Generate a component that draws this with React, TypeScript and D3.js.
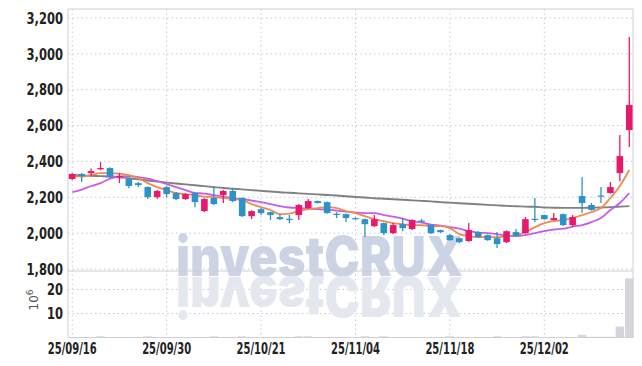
import React from 'react'
import * as d3 from 'd3'

// trading days shown on the chart
const dates = [
  '25/09/16','25/09/17','25/09/18','25/09/19','25/09/22','25/09/23','25/09/24','25/09/25','25/09/26','25/09/29',
  '25/09/30','25/10/01','25/10/02','25/10/10','25/10/13','25/10/14','25/10/15','25/10/16','25/10/17','25/10/20',
  '25/10/21','25/10/22','25/10/23','25/10/24','25/10/27','25/10/28','25/10/29','25/10/30','25/10/31','25/11/03',
  '25/11/04','25/11/05','25/11/06','25/11/07','25/11/10','25/11/11','25/11/12','25/11/13','25/11/14','25/11/17',
  '25/11/18','25/11/19','25/11/20','25/11/21','25/11/24','25/11/25','25/11/26','25/11/27','25/11/28','25/12/01',
  '25/12/02','25/12/03','25/12/04','25/12/05','25/12/08','25/12/09','25/12/10','25/12/11','25/12/12','25/12/15'
]

const open = [2302,2330,2335,2357,2363,2313,2302,2279,2257,2201, 2257,2224,2190,2224,2123,2196,2212,2235,2196,2095,
  2134,2117,2090,2080,2101,2140,2179,2173,2108,2106, 2084,2078,2039,2056,2000,2050,2023,2070,2045,2017,
  1989,1972,1956,2006,1989,1972,1950,2006,2000,2080, 2101,2073,2106,2045,2207,2157,2210,2224,2335,2575]
const close = [2330,2318,2346,2363,2313,2318,2263,2268,2201,2235, 2218,2190,2218,2173,2190,2162,2235,2179,2095,2123,
  2112,2101,2078,2078,2157,2179,2168,2112,2106,2084, 2078,2050,2078,2000,2045,2028,2073,2066,2000,2006,
  1961,1950,2017,1978,1961,1939,2011,1985,2078,2077, 2078,2084,2045,2090,2168,2129,2207,2257,2430,2715]
const high = [2335,2335,2360,2396,2368,2335,2305,2285,2262,2240, 2262,2228,2222,2228,2195,2263,2240,2251,2200,2128,
  2140,2120,2106,2101,2162,2190,2182,2176,2117,2110, 2088,2082,2101,2060,2056,2084,2078,2080,2048,2020,
  1995,1975,2056,2010,1993,2006,2015,2023,2090,2196, 2104,2112,2110,2101,2313,2168,2257,2285,2547,3094]
const low = [2296,2285,2318,2352,2307,2279,2251,2257,2190,2190, 2200,2184,2186,2145,2118,2157,2168,2173,2090,2078,
  2100,2073,2073,2056,2073,2135,2165,2108,2084,2062, 2075,1978,2034,1990,1995,2011,2017,2060,1995,2000,
  1958,1944,1952,1975,1958,1917,1945,1980,1997,2062, 2075,2070,2040,2034,2112,2125,2168,2220,2290,2480]

// volume, millions
const volume = [0.1,0.1,0.1,0.5,0.1,0.1,0.1,0.1,0.5,0.1, 0.1,0.1,0.1,0.1,0.1,0.5,0.1,0.1,0.5,0.1,
  0.1,0.1,0.1,0.1,0.5,0.5,0.1,0.1,0.1,0.1, 0.1,0.5,0.1,0.5,0.1,0.1,0.1,0.1,0.1,0.1,
  0.5,0.1,0.1,0.1,0.1,0.5,0.1,0.1,0.5,0.5, 0.1,0.1,0.1,0.1,1.1,0.3,0.3,0.3,4.6,24.6]

// moving averages
const maShort = [2318,2316,2324,2335,2335,2332,2324,2307,2279,2257, 2240,2224,2218,2212,2204,2201,2196,2190,2184,2162,
  2145,2129,2106,2109,2123,2134,2140,2145,2140,2123, 2112,2095,2078,2067,2056,2050,2045,2045,2039,2039,
  2028,1995,1983,1978,1978,1978,1983,1989,2006,2034, 2056,2067,2073,2084,2101,2117,2140,2196,2263,2352]
const maMid = [2229,2243,2263,2279,2304,2316,2318,2313,2304,2290, 2274,2257,2240,2224,2221,2212,2204,2196,2190,2182,
  2173,2162,2151,2143,2140,2137,2134,2131,2126,2120, 2115,2112,2112,2101,2092,2081,2067,2059,2048,2042,
  2034,2025,2011,2003,2000,1995,1986,1984,1989,2000, 2011,2020,2025,2037,2045,2062,2084,2129,2168,2224]
const maLong = [2324,2322,2320,2318,2316,2312,2306,2300,2294,2288, 2282,2277,2272,2267,2262,2257,2252,2248,2244,2240,
  2236,2232,2228,2225,2222,2219,2216,2213,2210,2206, 2202,2199,2195,2192,2189,2186,2183,2180,2177,2173,
  2170,2167,2164,2161,2158,2155,2152,2150,2148,2147, 2143,2142,2141,2141,2141,2142,2143,2145,2148,2151]

const priceTicks = [1800, 2000, 2200, 2400, 2600, 2800, 3000, 3200]
const volTicks = [10, 20]

const W = 642
const H = 366
const plotL = 68
const plotR = 633
const priceTop = 9
const priceBottom = 271
const volBottom = 337.5

const up = '#e8186d'
const down = '#2b93c8'
const grid = '#c6c9d8'
const frame = '#cfcfd4'
const labelFont = "'DejaVu Sans Condensed', 'DejaVu Sans', sans-serif"

export default function App() {
  const x = d3.scaleBand<string>().domain(dates).range([67.5, 634]).padding(0)
  const cx = (i: number) => (x(dates[i]) as number) + x.bandwidth() / 2
  const y = d3.scaleLinear().domain([1789, 3250]).range([priceBottom, priceTop])
  const yv = d3.scaleLinear().domain([0, 27.7]).range([volBottom, priceBottom])
  const fmt = d3.format(',')

  const line = d3.line<number>()
    .x((_, i) => cx(i))
    .y(d => y(d))
    .curve(d3.curveMonotoneX)

  const bodyW = 6.6
  const dateIdx = dates.map((_, i) => i).filter(i => i % 10 === 0)

  return (
    <svg width={W} height={H} style={{ position: 'absolute', left: 0, top: 0, background: '#fff' }}>
      {/* grid */}
      {priceTicks.map(t => (
        <line key={'g' + t} x1={plotL} x2={plotR} y1={y(t)} y2={y(t)} stroke={grid} strokeDasharray="1.5,3" />
      ))}
      {volTicks.map(t => (
        <line key={'v' + t} x1={plotL} x2={plotR} y1={yv(t)} y2={yv(t)} stroke={grid} strokeDasharray="1.5,3" />
      ))}
      {dateIdx.map(i => (
        <line key={'x' + i} x1={cx(i)} x2={cx(i)} y1={priceTop} y2={volBottom} stroke={grid} strokeDasharray="1.5,3" />
      ))}

      {/* watermark */}
      <g fontFamily="Inter, 'DejaVu Sans Condensed', sans-serif" fontWeight={900} fontSize={55}>
        <text x={176} y={276} textLength={287} lengthAdjust="spacingAndGlyphs" fill="#ccd3e5">investCRUX</text>
        <text x={176} y={-277} transform="scale(1,-1)" textLength={287} lengthAdjust="spacingAndGlyphs" fill="#e5e7ef">investCRUX</text>
      </g>

      {/* volume */}
      {volume.map((v, i) => (
        <rect key={'vb' + i} x={(x(dates[i]) as number) + 0.5} width={x.bandwidth() - 1}
          y={yv(v)} height={volBottom - yv(v)} fill="#d6d5dc" />
      ))}

      {/* frame */}
      <line x1={plotL} x2={plotR} y1={priceTop} y2={priceTop} stroke={frame} />
      <line x1={plotL} x2={plotR} y1={priceBottom} y2={priceBottom} stroke={frame} />
      <line x1={plotL} x2={plotR} y1={volBottom} y2={volBottom} stroke={frame} />
      <line x1={plotL} x2={plotL} y1={priceTop} y2={volBottom} stroke={frame} />
      <line x1={plotR} x2={plotR} y1={priceTop} y2={volBottom} stroke={frame} />

      {/* moving averages */}
      <path d={line(maLong) || ''} fill="none" stroke="#808080" strokeWidth={1.9} />
      <path d={line(maMid) || ''} fill="none" stroke="#c65ce8" strokeWidth={1.8} />
      <path d={line(maShort) || ''} fill="none" stroke="#f08a50" strokeWidth={1.8} />

      {/* candles */}
      {dates.map((d, i) => {
        const c = close[i] >= open[i] ? up : down
        const top = y(Math.max(open[i], close[i]))
        const bot = y(Math.min(open[i], close[i]))
        return (
          <g key={d}>
            <line x1={cx(i)} x2={cx(i)} y1={y(high[i])} y2={y(low[i])} stroke={c} strokeWidth={1.3} />
            <rect x={cx(i) - bodyW / 2} width={bodyW} y={top} height={Math.max(1.2, bot - top)} fill={c} />
          </g>
        )
      })}

      {/* axes labels */}
      <g fontFamily={labelFont} fontWeight="bold" fontSize={16} fill="#222" textAnchor="end">
        {priceTicks.map(t => (
          <text key={'pl' + t} transform={`translate(63,${y(t)}) scale(0.8,1)`} dy="0.36em">{fmt(t)}</text>
        ))}
        {volTicks.map(t => (
          <text key={'vl' + t} transform={`translate(63,${yv(t)}) scale(0.8,1)`} dy="0.36em">{t}</text>
        ))}
      </g>
      <text transform="translate(38,300) rotate(-90)" textAnchor="middle" fontFamily="'DejaVu Sans', sans-serif"
        fontSize={12} fill="#555">10<tspan dy="-5" fontSize={9}>6</tspan></text>
      <g fontFamily={labelFont} fontWeight="bold" fontSize={15} fill="#222" textAnchor="middle">
        {dateIdx.map(i => (
          <text key={'dl' + i} transform={`translate(${cx(i)},354) scale(0.74,1)`}>{dates[i]}</text>
        ))}
      </g>
    </svg>
  )
}
